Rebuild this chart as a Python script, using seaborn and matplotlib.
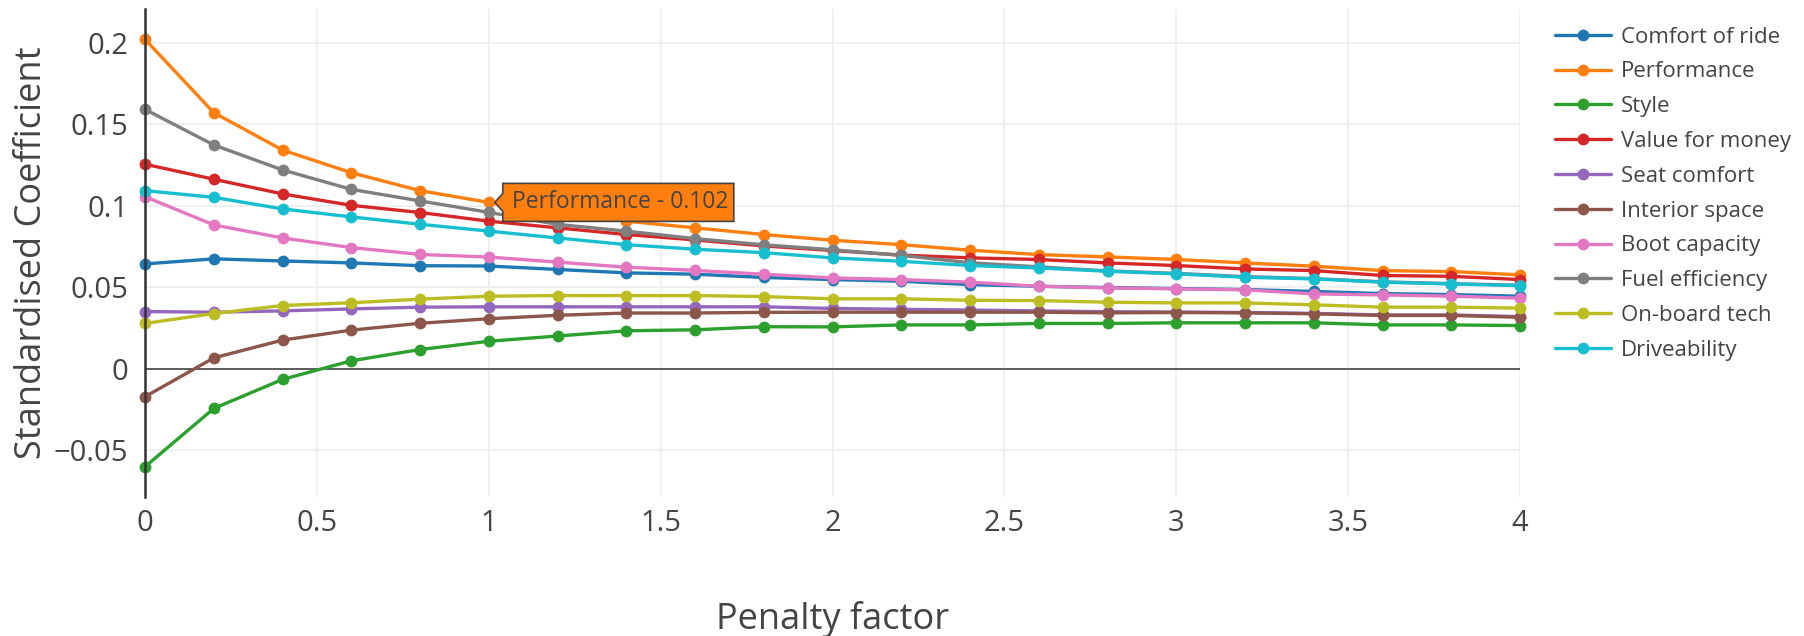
import pandas as pd
import matplotlib
matplotlib.use('Agg')
import matplotlib.pyplot as plt
import seaborn as sns
from matplotlib.patches import Polygon
from matplotlib.transforms import IdentityTransform

# Penalty factor values (x axis)
penalty = [0.0, 0.2, 0.4, 0.6, 0.8, 1.0, 1.2, 1.4, 1.6, 1.8, 2.0,
           2.2, 2.4, 2.6, 2.8, 3.0, 3.2, 3.4, 3.6, 3.8, 4.0]

comfort_of_ride = [0.0643, 0.0674, 0.0661, 0.0649, 0.0632, 0.0630, 0.0609, 0.0588, 0.0580, 0.0560, 0.0547,
                   0.0537, 0.0516, 0.0506, 0.0498, 0.0492, 0.0486, 0.0474, 0.0461, 0.0455, 0.0445]
performance = [0.2019, 0.1570, 0.1341, 0.1202, 0.1092, 0.1020, 0.0955, 0.0905, 0.0864, 0.0823, 0.0788,
               0.0761, 0.0727, 0.0700, 0.0686, 0.0670, 0.0649, 0.0629, 0.0602, 0.0596, 0.0576]
style = [-0.0600, -0.0243, -0.0065, 0.0049, 0.0118, 0.0169, 0.0201, 0.0233, 0.0239, 0.0258, 0.0257,
         0.0269, 0.0269, 0.0278, 0.0278, 0.0282, 0.0282, 0.0282, 0.0269, 0.0269, 0.0265]
value_for_money = [0.1254, 0.1162, 0.1072, 0.1002, 0.0958, 0.0905, 0.0864, 0.0823, 0.0790, 0.0753, 0.0725,
                   0.0697, 0.0680, 0.0670, 0.0649, 0.0633, 0.0612, 0.0602, 0.0572, 0.0567, 0.0547]
seat_comfort = [0.0351, 0.0347, 0.0355, 0.0367, 0.0378, 0.0380, 0.0380, 0.0380, 0.0380, 0.0380, 0.0370,
                0.0365, 0.0360, 0.0355, 0.0350, 0.0348, 0.0345, 0.0340, 0.0330, 0.0330, 0.0320]
interior_space = [-0.0171, 0.0067, 0.0176, 0.0237, 0.0279, 0.0307, 0.0328, 0.0342, 0.0342, 0.0346, 0.0347,
                  0.0347, 0.0347, 0.0347, 0.0343, 0.0345, 0.0343, 0.0337, 0.0327, 0.0327, 0.0316]
boot_capacity = [0.1055, 0.0882, 0.0802, 0.0743, 0.0701, 0.0685, 0.0654, 0.0623, 0.0603, 0.0580, 0.0557,
                 0.0547, 0.0531, 0.0506, 0.0496, 0.0490, 0.0484, 0.0459, 0.0453, 0.0445, 0.0433]
fuel_efficiency = [0.1590, 0.1372, 0.1219, 0.1100, 0.1029, 0.0959, 0.0885, 0.0844, 0.0798, 0.0760, 0.0730,
                   0.0695, 0.0650, 0.0625, 0.0600, 0.0585, 0.0565, 0.0553, 0.0533, 0.0522, 0.0512]
on_board_tech = [0.0278, 0.0339, 0.0388, 0.0405, 0.0427, 0.0445, 0.0449, 0.0449, 0.0449, 0.0443, 0.0429,
                 0.0429, 0.0420, 0.0418, 0.0408, 0.0404, 0.0404, 0.0392, 0.0378, 0.0378, 0.0372]
driveability = [0.1092, 0.1051, 0.0980, 0.0931, 0.0886, 0.0844, 0.0802, 0.0761, 0.0733, 0.0712, 0.0680,
                0.0659, 0.0633, 0.0618, 0.0598, 0.0582, 0.0561, 0.0551, 0.0531, 0.0520, 0.0510]

series_names = ['Comfort of ride', 'Performance', 'Style', 'Value for money', 'Seat comfort',
                'Interior space', 'Boot capacity', 'Fuel efficiency', 'On-board tech', 'Driveability']
series_values = [comfort_of_ride, performance, style, value_for_money, seat_comfort,
                 interior_space, boot_capacity, fuel_efficiency, on_board_tech, driveability]
colors = ['#1f77b4', '#ff7f0e', '#2ca02c', '#d62728', '#9467bd',
          '#8c564b', '#e377c2', '#7f7f7f', '#bcbd22', '#17becf']

# long format table for seaborn
rows = []
for name, vals in zip(series_names, series_values):
    for x, y in zip(penalty, vals):
        rows.append({'Penalty factor': x, 'Coefficient': y, 'Attribute': name})
df = pd.DataFrame(rows)

sns.set_theme(style='white')
plt.rcParams['font.family'] = ['Open Sans', 'DejaVu Sans']
text_col = '#444444'

fig = plt.figure(figsize=(18.04, 6.36), dpi=100)
ax = fig.add_axes([0.0804, 0.219, 0.7622, 0.767])

sns.lineplot(data=df, x='Penalty factor', y='Coefficient', hue='Attribute',
             hue_order=series_names, palette=colors, marker='o', markersize=8.5,
             markeredgewidth=0, linewidth=2.4, ax=ax, clip_on=False)

ax.set_xlim(0, 4)
ax.set_ylim(-0.0784, 0.2206)
ax.set_xticks([0, 0.5, 1, 1.5, 2, 2.5, 3, 3.5, 4])
ax.set_xticklabels(['0', '0.5', '1', '1.5', '2', '2.5', '3', '3.5', '4'])
ax.set_yticks([-0.05, 0, 0.05, 0.1, 0.15, 0.2])
ax.set_yticklabels(['\u22120.05', '0', '0.05', '0.1', '0.15', '0.2'])
ax.grid(True, color='#eeeeee', linewidth=1.2)
ax.set_axisbelow(True)
ax.axhline(0, color='#444444', linewidth=1.2, zorder=1)
for s in ['top', 'right', 'bottom']:
    ax.spines[s].set_visible(False)
ax.spines['left'].set_color('#333333')
ax.spines['left'].set_linewidth(1.8)
ax.tick_params(axis='both', length=0, labelsize=21, labelcolor=text_col)
ax.tick_params(axis='x', pad=9)
ax.tick_params(axis='y', pad=12)
ax.set_xlabel('Penalty factor', fontsize=26, color=text_col, labelpad=45)
ax.set_ylabel('Standardised Coefficient', fontsize=26, color=text_col, labelpad=3)

leg = ax.legend(loc='upper left', bbox_to_anchor=(0.862, 0.958), bbox_transform=fig.transFigure,
                frameon=False, fontsize=16, handlelength=2.5, handletextpad=0.45,
                labelspacing=0.62, borderpad=0, borderaxespad=0)
for t in leg.get_texts():
    t.set_color(text_col)

# hover label for Performance at penalty factor 1
px, py = ax.transData.transform((1.0, 0.102))
box_h = 38
tip = 6
left = px + tip + 8
right = left + 231
verts = [(px + tip, py), (left, py + 9), (left, py + box_h / 2), (right, py + box_h / 2),
         (right, py - box_h / 2), (left, py - box_h / 2), (left, py - 9)]
fig.patches.append(Polygon(verts, closed=True, facecolor='#ff7f0e', edgecolor='#444444',
                           linewidth=1.2, transform=IdentityTransform(), figure=fig, zorder=10))
fig.text(left + 9, py, 'Performance - 0.102', transform=IdentityTransform(), fontsize=16.5,
         color=text_col, va='center', ha='left', zorder=11)

fig.savefig('out.png', dpi=100)
